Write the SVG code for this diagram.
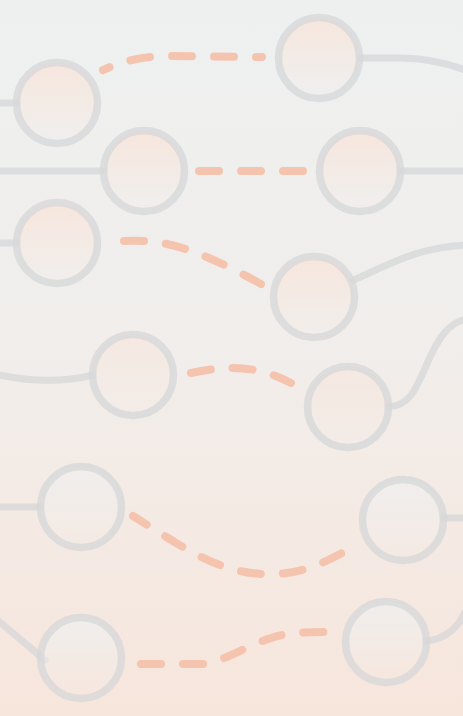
<svg xmlns="http://www.w3.org/2000/svg" width="463" height="716" viewBox="0 0 463 716">
<defs>
<linearGradient id="bg" x1="0" y1="0" x2="0" y2="1">
<stop offset="0" stop-color="#eef0f0"/>
<stop offset="0.45" stop-color="#f1eeec"/>
<stop offset="1" stop-color="#f7e6dc"/>
</linearGradient>
<linearGradient id="fTop" x1="0" y1="0" x2="0" y2="1">
<stop offset="0" stop-color="#f7e6dc" stop-opacity="0.95"/>
<stop offset="1" stop-color="#f7e6dc" stop-opacity="0"/>
</linearGradient>
<linearGradient id="fMid" x1="0" y1="0" x2="0" y2="1">
<stop offset="0" stop-color="#f5e8e0" stop-opacity="0.95"/>
<stop offset="1" stop-color="#f5e8e0" stop-opacity="0"/>
</linearGradient>
<linearGradient id="fBot" x1="0" y1="0" x2="0" y2="1">
<stop offset="0" stop-color="#f0eeec" stop-opacity="0.95"/>
<stop offset="1" stop-color="#f0eeec" stop-opacity="0"/>
</linearGradient>
<style>
.n{stroke:#d6d7d8;stroke-opacity:0.75;stroke-width:7.5}
.t{fill:url(#fTop)}
.m{fill:url(#fMid)}
.b{fill:url(#fBot)}
.s{fill:none;stroke:#d6d7d8;stroke-opacity:0.75;stroke-width:7;stroke-linecap:round}
.d{fill:none;stroke:#f5c4ae;stroke-width:8;stroke-linecap:round;stroke-dasharray:20 22}
</style>
</defs>
<rect width="463" height="716" fill="url(#bg)"/>
<g id="connectors">
<path class="s" d="M-5,103 L17,103"/>
<path class="s" d="M360,58 L400,58 C425,58 448,63 470,72"/>
<path class="s" d="M-5,171 L104,171"/>
<path class="s" d="M400,171 L470,171"/>
<path class="s" d="M-5,243 L17,243"/>
<path class="s" d="M354,280 C390,264 420,246 470,245"/>
<path class="s" d="M-5,374 C30,382 65,382 93,375"/>
<path class="s" d="M388,407 C408,406 415,392 426,366 C438,338 448,322 470,318"/>
<path class="s" d="M-5,507 L41,507"/>
<path class="s" d="M443,518 L470,518"/>
<path class="s" d="M-5,618 L45,660"/>
<path class="s" d="M426,641 C446,639 458,628 465,612"/>
<path class="d" stroke-dashoffset="13" d="M103,70 C125,60 145,56 172,56 L262,57"/>
<path class="d" d="M199,171 L303,171"/>
<path class="d" d="M124,241 C165,239 195,248 261,284"/>
<path class="d" d="M191,373 C225,366 255,364 291,383"/>
<path class="d" stroke-dashoffset="4" d="M133,516 C180,545 215,572 263,574 C295,576 320,565 344,552"/>
<path class="d" d="M141,664 L204,664 C225,660 240,650 260,642 C275,636 285,632 324,632"/>
</g>
<g id="node1"><circle class="n t" cx="57" cy="103" r="40.5"/></g>
<g id="node2"><circle class="n t" cx="319" cy="58" r="40.5"/></g>
<g id="node3"><circle class="n t" cx="144" cy="171" r="40.5"/></g>
<g id="node4"><circle class="n t" cx="360" cy="171" r="40.5"/></g>
<g id="node5"><circle class="n t" cx="57" cy="243" r="40.5"/></g>
<g id="node6"><circle class="n t" cx="314" cy="297" r="40.5"/></g>
<g id="node7"><circle class="n m" cx="133" cy="375" r="40.5"/></g>
<g id="node8"><circle class="n m" cx="348" cy="407" r="40.5"/></g>
<g id="node9"><circle class="n b" cx="81" cy="507" r="40.5"/></g>
<g id="node10"><circle class="n b" cx="403" cy="520" r="40.5"/></g>
<g id="node11"><circle class="n b" cx="81" cy="658" r="40.5"/></g>
<g id="node12"><circle class="n b" cx="386" cy="642" r="40.5"/></g>
</svg>
